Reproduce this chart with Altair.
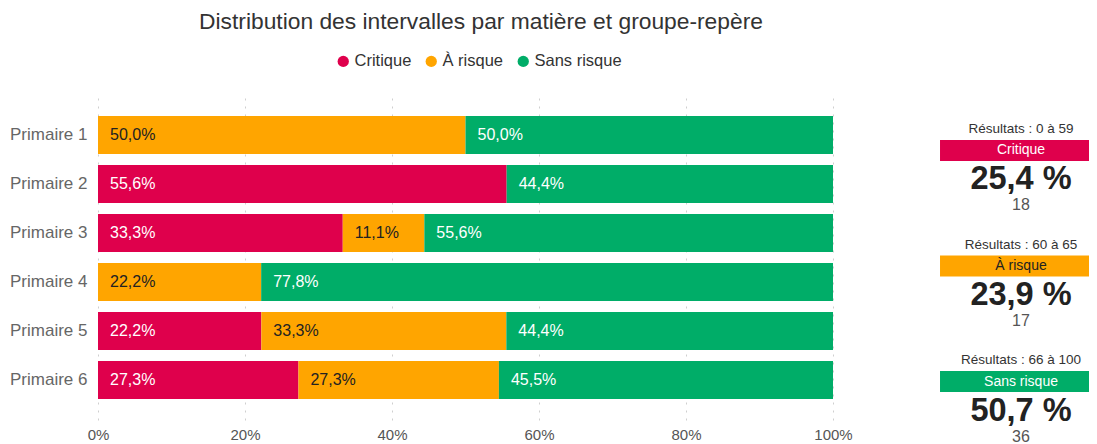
import altair as alt
import pandas as pd

# ---- data ----
groupes = ["Primaire 1", "Primaire 2", "Primaire 3", "Primaire 4", "Primaire 5", "Primaire 6"]
categories = ["Critique", "À risque", "Sans risque"]
critique = [0.0, 55.6, 33.3, 0.0, 22.2, 27.3]
a_risque = [50.0, 0.0, 11.1, 22.2, 33.3, 27.3]
sans_risque = [50.0, 44.4, 55.6, 77.8, 44.4, 45.5]

resume_plages = ["0 à 59", "60 à 65", "66 à 100"]
resume_pct = [25.4, 23.9, 50.7]
resume_n = [18, 17, 36]

colors = ["#DF004C", "#FFA500", "#00AD68"]
FONT = "Liberation Sans"

rows = []
for i, g in enumerate(groupes):
    for k, (c, vals) in enumerate(zip(categories, [critique, a_risque, sans_risque])):
        rows.append({"groupe": g, "categorie": c, "ordre": k, "pct": vals[i]})
df = pd.DataFrame(rows)

res = pd.DataFrame({
    "categorie": categories,
    "plage": resume_plages,
    "pct": resume_pct,
    "n": resume_n,
    "idx": list(range(len(categories))),
})

XSCALE = alt.Scale(domain=[0, 1], nice=False, zero=False)

# ---- stacked bars ----
base = (
    alt.Chart(df)
    .transform_filter("datum.pct > 0")
    .transform_stack(
        stack="pct",
        groupby=["groupe"],
        sort=[alt.SortField("ordre", order="ascending")],
        as_=["x0", "x1"],
        offset="normalize",
    )
    .transform_calculate(lbl="replace(format(datum.pct, '.1f'), '.', ',') + '%'")
)

y_enc = alt.Y(
    "groupe:N",
    sort=groupes,
    scale=alt.Scale(paddingInner=0.224, paddingOuter=0.43),
    axis=alt.Axis(
        title=None, labelFontSize=17, labelColor="#666666", labelPadding=11,
        ticks=False, domain=False, grid=False, labelFont=FONT,
    ),
)

bars = base.mark_bar().encode(
    y=y_enc,
    x=alt.X(
        "x0:Q",
        scale=XSCALE,
        axis=alt.Axis(
            format=".0%", values=[0, 0.2, 0.4, 0.6, 0.8, 1.0], title=None,
            grid=True, gridDash=[2, 6], gridColor="#cfcfcf", ticks=False,
            domain=False, labelFontSize=15, labelColor="#555555",
            labelPadding=7, labelFlush=False, labelFont=FONT,
        ),
    ),
    x2="x1:Q",
    color=alt.Color(
        "categorie:N",
        scale=alt.Scale(domain=categories, range=colors),
        legend=alt.Legend(
            title=None, orient="none", legendX=237, legendY=-42,
            direction="horizontal", symbolType="circle", symbolSize=127,
            labelFontSize=16.5, labelColor="#333333", labelFont=FONT,
            columnPadding=11, labelOffset=3, symbolStrokeWidth=0, padding=0,
        ),
    ),
)

labels = base.mark_text(
    align="left", baseline="middle", dx=12, fontSize=16, font=FONT
).encode(
    y=alt.Y("groupe:N", sort=groupes),
    x=alt.X("x0:Q", scale=XSCALE),
    text="lbl:N",
    color=alt.condition("datum.categorie == 'À risque'", alt.value("#222222"), alt.value("#ffffff")),
)

left = alt.layer(bars, labels)

# ---- summary panel (placed to the right of the bar scale, in the same x units) ----
PANEL_X = 1.2558   # centre of the panel, in units of the bar scale (1 = 100%)
py = alt.Y(
    "idx:Q",
    scale=alt.Scale(domain=[-0.4805, 2.3333], reverse=True, nice=False, zero=False),
    axis=None,
)
px = alt.datum(PANEL_X)

pbase = alt.Chart(res).transform_calculate(
    titre="'Résultats : ' + datum.plage",
    big="replace(format(datum.pct, '.1f'), '.', ',') + ' %'",
)

ptick = pbase.mark_tick(orient="horizontal", thickness=21, size=162, opacity=1).encode(
    x=px, y=py,
    color=alt.Color("categorie:N", scale=alt.Scale(domain=categories, range=colors), legend=None),
)
ptitle = pbase.mark_text(fontSize=13.5, font=FONT, color="#333333", dy=-21.5).encode(
    x=px, y=py, text="titre:N")
pcat = pbase.mark_text(fontSize=14, font=FONT).encode(
    x=px, y=py, text="categorie:N",
    color=alt.condition("datum.categorie == 'À risque'", alt.value("#222222"), alt.value("#ffffff")),
)
pbig = pbase.mark_text(fontSize=32.5, font=FONT, fontWeight="bold", color="#222222", dy=29).encode(
    x=px, y=py, text="big:N")
pn = pbase.mark_text(fontSize=16, font=FONT, color="#555555", dy=55).encode(
    x=px, y=py, text="n:N")

panel = alt.layer(ptick, ptitle, pcat, pbig, pn)

chart = (
    alt.layer(left, panel)
    .resolve_scale(y="independent", color="independent")
    .properties(
        width=735,
        height=325,
        autosize=alt.AutoSizeParams(type="none"),
        padding={"left": 90, "top": 87, "right": 256, "bottom": 32},
        title=alt.TitleParams(
            "Distribution des intervalles par matière et groupe-repère",
            fontSize=22.8, font=FONT, color="#333333", fontWeight="normal",
            anchor="middle", dx=15.5, offset=19,
        ),
    )
    .configure_view(stroke=None)
    .configure_text(font=FONT)
)

chart.save("out.html", embed_options={"renderer": "svg", "actions": False})
